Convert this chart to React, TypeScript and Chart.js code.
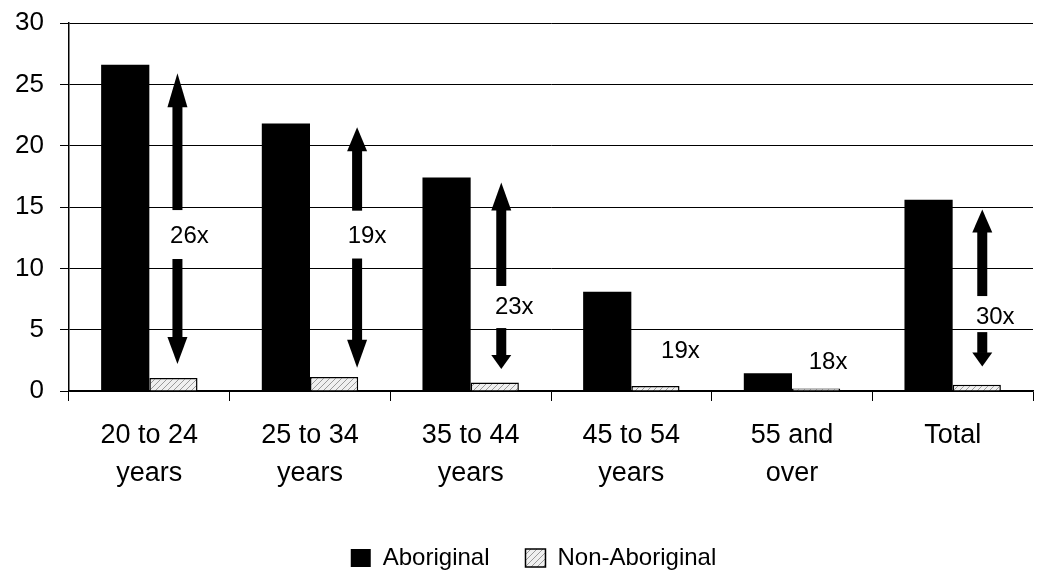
import React, { useEffect, useRef } from "react";
import { Chart, registerables } from "chart.js";

Chart.register(...registerables);

const categories: string[][] = [
  ["20 to 24", "years"],
  ["25 to 34", "years"],
  ["35 to 44", "years"],
  ["45 to 54", "years"],
  ["55 and", "over"],
  ["Total"],
];
const aboriginal = [26.6, 21.8, 17.4, 8.1, 1.45, 15.6];
const nonAboriginal = [1.05, 1.15, 0.7, 0.4, 0.2, 0.5];
const yTicks = [0, 5, 10, 15, 20, 25, 30];

// Ratio annotations (values on the y scale)
const ratioLabels = ["26x", "19x", "23x", "19x", "18x", "30x"];
const ratioLabelValue = [12.6, 12.6, 6.85, 3.2, 2.3, 6.0];
const arrowTop: (number | null)[] = [25.9, 21.5, 17.0, null, null, 14.8];
const arrowBottom: (number | null)[] = [2.2, 1.9, 1.8, null, null, 2.0];
const gapHigh: (number | null)[] = [14.75, 14.7, 8.56, null, null, 7.74];
const gapLow: (number | null)[] = [10.76, 10.8, 5.13, null, null, 4.8];

const FONT = "'Liberation Sans', Arial, Helvetica, sans-serif";

// style offsets (px) relative to the Non-Aboriginal bar centre
const arrowShift = [4, 23, 6.5, 0, 0, 5.5];
const labelShift = [16, 33, 19.5, 25, 12, 18.5];
const headUp = [34, 24, 28, 0, 0, 23];
const headDown = [27, 28, 14, 0, 0, 14];
const LEGEND_SHIFT = 17;

function makePattern(): CanvasPattern | string {
  const c = document.createElement("canvas");
  c.width = 6;
  c.height = 6;
  const g = c.getContext("2d");
  if (!g) return "#ddd";
  g.fillStyle = "#f0f0f0";
  g.fillRect(0, 0, 6, 6);
  g.strokeStyle = "#9a9a9a";
  g.lineWidth = 1;
  g.beginPath();
  g.moveTo(0, 6);
  g.lineTo(6, 0);
  g.stroke();
  return g.createPattern(c, "repeat") || "#ddd";
}

const legendShiftPlugin = {
  id: "legendShift",
  afterLayout(chart: any) {
    const lg = chart.legend;
    if (lg) {
      lg.left += LEGEND_SHIFT;
      lg.right += LEGEND_SHIFT;
    }
  },
};

const arrowPlugin = {
  id: "ratioArrows",
  afterDatasetsDraw(chart: any) {
    const ctx = chart.ctx as CanvasRenderingContext2D;
    const y = chart.scales.y;
    const meta = chart.getDatasetMeta(1);
    ctx.save();
    ctx.fillStyle = "#000";
    ratioLabels.forEach((lab, i) => {
      const bx = meta.data[i].x;
      const t = arrowTop[i];
      const b = arrowBottom[i];
      const g1 = gapHigh[i];
      const g2 = gapLow[i];
      if (t != null && b != null && g1 != null && g2 != null) {
        const ax = bx + arrowShift[i];
        const yT = y.getPixelForValue(t);
        const yB = y.getPixelForValue(b);
        const yG1 = y.getPixelForValue(g1);
        const yG2 = y.getPixelForValue(g2);
        const hw = 10;
        const sw = 5;
        const hu = headUp[i];
        const hd = headDown[i];
        ctx.beginPath();
        ctx.moveTo(ax, yT);
        ctx.lineTo(ax + hw, yT + hu);
        ctx.lineTo(ax - hw, yT + hu);
        ctx.closePath();
        ctx.fill();
        ctx.fillRect(ax - sw, yT + hu - 0.5, sw * 2, yG1 - (yT + hu) + 0.5);
        ctx.fillRect(ax - sw, yG2, sw * 2, yB - hd - yG2 + 0.5);
        ctx.beginPath();
        ctx.moveTo(ax, yB);
        ctx.lineTo(ax + hw, yB - hd);
        ctx.lineTo(ax - hw, yB - hd);
        ctx.closePath();
        ctx.fill();
      }
      ctx.font = `24px ${FONT}`;
      ctx.textAlign = "center";
      ctx.textBaseline = "middle";
      ctx.fillText(lab, bx + labelShift[i], y.getPixelForValue(ratioLabelValue[i]));
    });
    ctx.restore();
  },
};

export default function App() {
  const ref = useRef<HTMLCanvasElement | null>(null);
  useEffect(() => {
    if (!ref.current) return;
    const pattern = makePattern();
    const chart = new Chart(ref.current, {
      type: "bar",
      data: {
        labels: categories,
        datasets: [
          {
            label: "Aboriginal",
            data: aboriginal,
            backgroundColor: "#000",
            borderWidth: 0,
            categoryPercentage: 0.6,
            barPercentage: 1,
          },
          {
            label: "Non-Aboriginal",
            data: nonAboriginal,
            backgroundColor: pattern as any,
            borderColor: "#000",
            borderWidth: 1.5,
            categoryPercentage: 0.6,
            barPercentage: 1,
          },
        ],
      },
      options: {
        responsive: false,
        animation: false,
        devicePixelRatio: 1,
        layout: { padding: { top: 23, right: 20, left: 0, bottom: -6 } },
        scales: {
          x: {
            grid: {
              display: true,
              drawOnChartArea: false,
              drawTicks: true,
              tickLength: 10,
              color: "#000",
              lineWidth: 1,
            },
            border: { display: true, color: "#000", width: 1.5 },
            ticks: {
              color: "#000",
              font: { family: FONT, size: 27, lineHeight: 1.4 },
              padding: 16,
              maxRotation: 0,
              autoSkip: false,
            },
            afterFit: (s: any) => {
              s.height = 119;
              s.paddingLeft = 0;
              s.paddingRight = 0;
            },
          },
          y: {
            min: 0,
            max: 30,
            afterBuildTicks: (s: any) => {
              s.ticks = yTicks.map((v) => ({ value: v }));
            },
            grid: {
              color: "#000",
              lineWidth: 1,
              drawTicks: true,
              tickLength: 9,
            },
            border: { display: true, color: "#000", width: 1.5 },
            ticks: {
              color: "#000",
              font: { family: FONT, size: 26 },
              padding: 16,
            },
            afterFit: (s: any) => {
              s.width = 69;
              s.paddingTop = 0;
              s.paddingBottom = 0;
            },
          },
        },
        plugins: {
          legend: {
            position: "bottom",
            labels: {
              color: "#000",
              font: { family: FONT, size: 24 },
              boxWidth: 20,
              boxHeight: 18,
              padding: 36,
            },
          },
          tooltip: { enabled: false },
        },
      },
      plugins: [arrowPlugin, legendShiftPlugin],
    });
    return () => chart.destroy();
  }, []);
  return (
    <div style={{ position: "absolute", left: 0, top: 0, width: 1053, height: 574, background: "#fff" }}>
      <canvas ref={ref} width={1053} height={574} style={{ width: 1053, height: 574 }} />
    </div>
  );
}
